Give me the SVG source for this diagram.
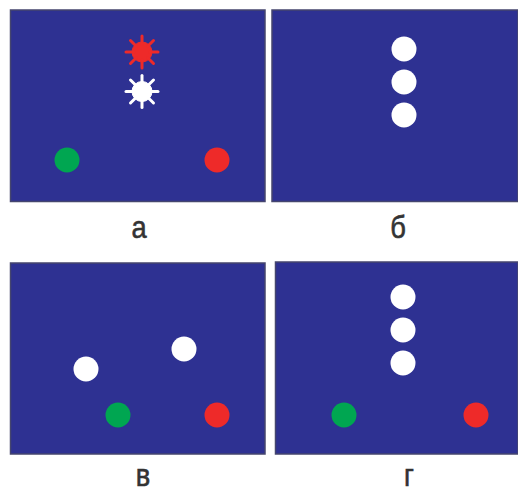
<svg xmlns="http://www.w3.org/2000/svg" width="518" height="493" viewBox="0 0 518 493">
<defs>
<style>
.panel{fill:#2e3192;stroke:#45466e;stroke-width:1.5}
.w{fill:#ffffff}
.r{fill:#ee2a29}
.g{fill:#00a651}
.lbl{font-family:"Liberation Sans","Noto Sans",sans-serif;font-size:31px;fill:#333333;stroke:#333333;stroke-width:0.6;text-anchor:middle}
.ray{stroke-width:3;stroke-linecap:round}
</style>
<g id="star">
<circle r="10"/>
<g class="ray">
<line x1="0" y1="-8" x2="0" y2="-16"/>
<line x1="0" y1="8" x2="0" y2="16"/>
<line x1="-8" y1="0" x2="-16" y2="0"/>
<line x1="8" y1="0" x2="16" y2="0"/>
<line x1="5.7" y1="5.7" x2="11.5" y2="11.5"/>
<line x1="-5.7" y1="5.7" x2="-11.5" y2="11.5"/>
<line x1="5.7" y1="-5.7" x2="11.5" y2="-11.5"/>
<line x1="-5.7" y1="-5.7" x2="-11.5" y2="-11.5"/>
</g>
</g>
</defs>
<rect width="518" height="493" fill="#ffffff"/>
<g id="panel-a">
<rect class="panel" x="10.5" y="10" width="254.5" height="191.5"/>
<use href="#star" x="142" y="52" fill="#ee2a29" stroke="#ee2a29"/>
<use href="#star" x="142" y="91.5" fill="#ffffff" stroke="#ffffff"/>
<circle class="g" cx="67" cy="160" r="12.5"/>
<circle class="r" cx="217" cy="160" r="12.5"/>
<text class="lbl" x="139" y="238" transform="translate(139 0) scale(0.88 1) translate(-139 0)">а</text>
</g>
<g id="panel-b">
<rect class="panel" x="272" y="10" width="246" height="191.5"/>
<circle class="w" cx="404" cy="49" r="12.5"/>
<circle class="w" cx="404" cy="82" r="12.5"/>
<circle class="w" cx="404" cy="115" r="12.5"/>
<text class="lbl" x="398" y="238" transform="translate(398 0) scale(0.88 1) translate(-398 0)">б</text>
</g>
<g id="panel-v">
<rect class="panel" x="10.5" y="263" width="254.5" height="191"/>
<circle class="w" cx="86" cy="369" r="12.5"/>
<circle class="w" cx="184" cy="349" r="12.5"/>
<circle class="g" cx="118" cy="415" r="12.5"/>
<circle class="r" cx="217" cy="415" r="12.5"/>
<text class="lbl" x="143" y="486" transform="translate(143 0) scale(0.88 1) translate(-143 0)">в</text>
</g>
<g id="panel-g">
<rect class="panel" x="275.5" y="262" width="242.5" height="192"/>
<circle class="w" cx="403" cy="297" r="12.5"/>
<circle class="w" cx="403" cy="330" r="12.5"/>
<circle class="w" cx="403" cy="363" r="12.5"/>
<circle class="g" cx="344" cy="415" r="12.5"/>
<circle class="r" cx="476" cy="415" r="12.5"/>
<text class="lbl" x="409" y="486" transform="translate(409 0) scale(0.88 1) translate(-409 0)">г</text>
</g>
</svg>
